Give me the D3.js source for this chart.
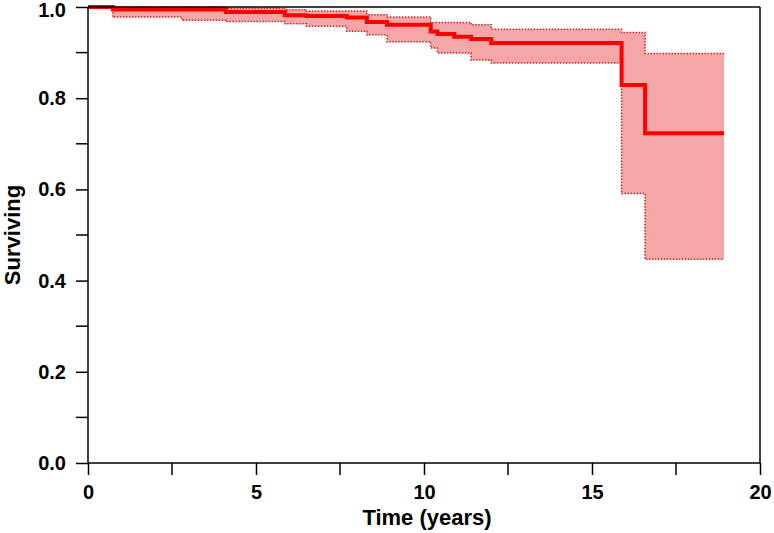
<!DOCTYPE html>
<html>
<head>
<meta charset="utf-8">
<script src="https://cdn.jsdelivr.net/npm/d3@7"></script>
<style>
  body { margin: 0; background: #fff; }
  text { font-family: "Liberation Sans", Arial, sans-serif; font-weight: bold; }
</style>
</head>
<body>
<svg id="svg" width="774" height="533"></svg>
<script>
// Kaplan-Meier estimate
var stepTimes = [0, 0.74, 4.1, 5.86, 6.5, 7.7, 8.3, 8.9, 10.2, 10.4, 10.9, 11.4, 12.0, 15.88, 16.58];
var surv      = [1.0, 0.9945, 0.989, 0.982, 0.980, 0.977, 0.967, 0.961, 0.946, 0.941, 0.935, 0.930, 0.921, 0.829, 0.723];
var upperTimes = [0, 4.1, 5.86, 6.5, 8.3, 8.9, 10.2, 11.4, 12.0, 15.88, 16.58];
var upper      = [1.0, 0.997, 0.994, 0.991, 0.983, 0.978, 0.966, 0.961, 0.951, 0.944, 0.898];
var lowerTimes = [0, 0.74, 2.8, 4.1, 5.86, 6.5, 7.7, 8.3, 8.9, 10.2, 10.4, 11.4, 12.0, 15.88, 16.58];
var lower      = [1.0, 0.978, 0.971, 0.968, 0.963, 0.958, 0.947, 0.939, 0.924, 0.910, 0.899, 0.884, 0.877, 0.591, 0.447];
var endTime = 18.93;

var xMajor = [0, 5, 10, 15, 20];
var xMinor = [2.5, 7.5, 12.5, 17.5];
var yMajor = [0, 0.2, 0.4, 0.6, 0.8, 1.0];
var yMinor = [0.1, 0.3, 0.5, 0.7, 0.9];

var svg = d3.select("#svg");
var margin = {left: 88, top: 7, right: 14, bottom: 70};
var width = 774 - margin.left - margin.right,
    height = 533 - margin.top - margin.bottom;

var x = d3.scaleLinear().domain([0, 20]).range([0, width]);
var y = d3.scaleLinear().domain([0, 1]).range([height, 0]);

var g = svg.append("g").attr("transform", "translate(" + margin.left + "," + margin.top + ")");

// turn step arrays into points (with the end point appended)
function pts(ts, vs) {
  var p = ts.map(function(t, i) { return [t, vs[i]]; });
  p.push([endTime, vs[vs.length - 1]]);
  return p;
}
var upPts = pts(upperTimes, upper),
    loPts = pts(lowerTimes, lower),
    kmPts = pts(stepTimes, surv);

var stepLine = d3.line().x(function(d) { return x(d[0]); }).y(function(d) { return y(d[1]); }).curve(d3.curveStepAfter);

// confidence band: upper step path forward, lower step path backward
var bandUp = stepLine(upPts);
var loRev = [];
for (var i = loPts.length - 1; i >= 0; i--) {
  if (i < loPts.length - 1) loRev.push([loPts[i + 1][0], loPts[i][1]]);
  loRev.push(loPts[i]);
}
var bandLo = d3.line().x(function(d) { return x(d[0]); }).y(function(d) { return y(d[1]); })(loRev);
g.append("path")
  .attr("d", bandUp + "L" + bandLo.slice(1) + "Z")
  .attr("fill", "#f5a6a6")
  .attr("stroke", "none");

[upPts, loPts].forEach(function(p) {
  g.append("path")
    .attr("d", stepLine(p))
    .attr("fill", "none")
    .attr("stroke", "#d42020")
    .attr("stroke-width", 1.5)
    .attr("stroke-dasharray", "1.5,1.5");
});

g.append("path")
  .attr("d", stepLine(kmPts))
  .attr("fill", "none")
  .attr("stroke", "#ff0000")
  .attr("stroke-width", 4);

// frame
g.append("line").attr("x1", 0).attr("x2", width).attr("y1", 0).attr("y2", 0)
  .attr("stroke", "#000").attr("stroke-width", 1.5);
g.append("line").attr("x1", width).attr("x2", width).attr("y1", 0).attr("y2", height)
  .attr("stroke", "#000").attr("stroke-width", 1.5);

// axes
var xAxis = g.append("g").attr("transform", "translate(0," + height + ")")
  .call(d3.axisBottom(x).tickValues(xMajor).tickSize(12).tickPadding(10).tickFormat(d3.format("d")));
xAxis.append("g").selectAll("line").data(xMinor).enter().append("line")
  .attr("x1", x).attr("x2", x).attr("y1", 0).attr("y2", 12);

var yAxis = g.append("g")
  .call(d3.axisLeft(y).tickValues(yMajor).tickSize(12).tickPadding(10).tickFormat(d3.format(".1f")));
yAxis.append("g").selectAll("line").data(yMinor).enter().append("line")
  .attr("x1", -12).attr("x2", 0).attr("y1", y).attr("y2", y);

[xAxis, yAxis].forEach(function(a) {
  a.select(".domain").attr("stroke", "#000").attr("stroke-width", 1.5);
  a.selectAll("line").attr("stroke", "#000").attr("stroke-width", 1.5);
  a.selectAll("text").attr("fill", "#000").style("font-size", "20px")
    .style("font-family", "'Liberation Sans', Arial, sans-serif").style("font-weight", "bold");
});
yAxis.select(".domain").attr("d", "M0,0V" + height);
xAxis.select(".domain").attr("d", "M0,0H" + width);
// top label nudged down so it stays inside the page
yAxis.selectAll(".tick text").filter(function(d) { return d === 1; }).attr("y", 3);

svg.append("text")
  .attr("x", margin.left + width / 2 + 3).attr("y", 525)
  .attr("text-anchor", "middle").style("font-size", "22px")
  .text("Time (years)");

svg.append("text")
  .attr("transform", "translate(20," + (margin.top + height / 2) + ") rotate(-90)")
  .attr("text-anchor", "middle").style("font-size", "22px")
  .text("Surviving");
</script>
</body>
</html>
